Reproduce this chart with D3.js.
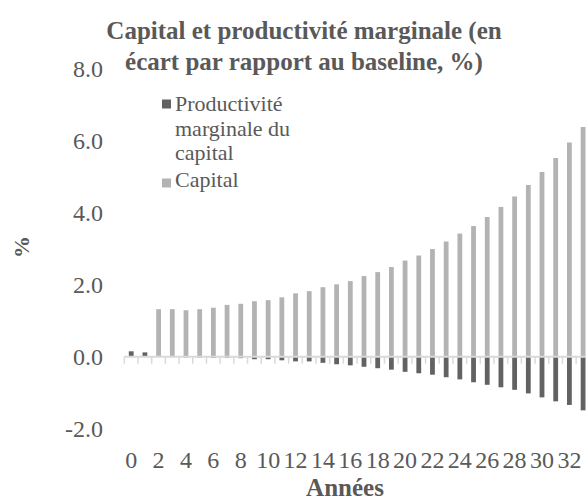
<!DOCTYPE html>
<html lang="fr">
<head>
<meta charset="UTF-8">
<title>Capital et productivité marginale</title>
<style>
  body { margin: 0; background: #fff; }
  svg text { font-family: 'Liberation Serif', 'Times New Roman', serif; fill: #595959; }
  .tick-label { font-size: 24px; }
  .title { font-size: 25px; font-weight: bold; }
  .legend text { font-size: 22px; }
  .axis-title { font-weight: bold; font-size: 25px; }
</style>
</head>
<body>
<svg id="chart" width="586" height="500"></svg>
<script src="https://d3js.org/d3.v7.min.js"></script>
<script>
// data
var years = d3.range(0, 34);
var productivite = [0.15, 0.12, -0.01, -0.01, -0.02, -0.02, -0.03, -0.03, -0.04, -0.07,
  -0.07, -0.10, -0.13, -0.13, -0.17, -0.21, -0.24, -0.28, -0.32, -0.36,
  -0.42, -0.46, -0.50, -0.57, -0.63, -0.71, -0.78, -0.85, -0.92, -1.02,
  -1.13, -1.24, -1.34, -1.49];
var capital = [0, 0, 1.32, 1.32, 1.29, 1.32, 1.36, 1.44, 1.47, 1.54,
  1.57, 1.65, 1.76, 1.82, 1.93, 2.01, 2.10, 2.24, 2.35, 2.49,
  2.67, 2.81, 2.99, 3.20, 3.42, 3.63, 3.88, 4.16, 4.45, 4.77,
  5.13, 5.52, 5.95, 6.38];
var yTicks = [-2, 0, 2, 4, 6, 8];
var seriesNames = ["Productivité marginale du capital", "Capital"];
var colors = ["#626262", "#b3b3b3"];

var svg = d3.select("#chart");

var x = d3.scaleBand()
  .domain(years)
  .range([124.3, 590])
  .paddingInner(0.65)
  .paddingOuter(0.33);
var y = d3.scaleLinear().domain([-2, 8]).range([428.7, 68.7]);

var rows = years.map(function(yr, i) {
  return { year: yr, p: productivite[i], c: capital[i] };
});
var stack = d3.stack().keys(["p", "c"]).offset(d3.stackOffsetDiverging);
var layers = stack(rows);

svg.selectAll("g.layer")
  .data(layers)
  .enter().append("g")
  .attr("class", "layer")
  .attr("fill", function(d, i) { return colors[i]; })
  .selectAll("rect")
  .data(function(d) { return d; })
  .enter().append("rect")
  .attr("x", function(d) { return x(d.data.year); })
  .attr("width", x.bandwidth())
  .attr("y", function(d) { return y(Math.max(d[0], d[1])); })
  .attr("height", function(d) { return Math.abs(y(d[0]) - y(d[1])); });

// x axis line and ticks between categories
var step = x.step();
var x0 = x.range()[0];
svg.append("line")
  .attr("x1", x0).attr("x2", x.range()[1])
  .attr("y1", y(0)).attr("y2", y(0))
  .attr("stroke", "#d9d9d9").attr("stroke-width", 2);
svg.selectAll("line.xtick")
  .data(d3.range(0, years.length + 1))
  .enter().append("line")
  .attr("class", "xtick")
  .attr("x1", function(i) { return x0 + i * step; })
  .attr("x2", function(i) { return x0 + i * step; })
  .attr("y1", y(0)).attr("y2", y(0) + 7)
  .attr("stroke", "#d9d9d9").attr("stroke-width", 1.5);

// x tick labels every second year
svg.selectAll("text.xlab")
  .data(years.filter(function(d) { return d % 2 === 0; }))
  .enter().append("text")
  .attr("class", "tick-label xlab")
  .attr("x", function(d) { return x(d) + x.bandwidth() / 2; })
  .attr("y", 467.7)
  .attr("text-anchor", "middle")
  .text(function(d) { return d; });

// y tick labels
svg.selectAll("text.ylab")
  .data(yTicks)
  .enter().append("text")
  .attr("class", "tick-label ylab")
  .attr("x", 103)
  .attr("y", function(d) { return y(d) + 8.3; })
  .attr("text-anchor", "end")
  .text(function(d) { return d.toFixed(1); });

// title
svg.append("text").attr("class", "title")
  .attr("x", 304).attr("y", 39).attr("text-anchor", "middle")
  .text("Capital et productivité marginale (en");
svg.append("text").attr("class", "title")
  .attr("x", 304).attr("y", 70).attr("text-anchor", "middle")
  .text("écart par rapport au baseline, %)");

// axis titles
svg.append("text").attr("class", "axis-title")
  .attr("transform", "translate(29,247) rotate(-90)")
  .attr("text-anchor", "middle")
  .style("font-size", "22px")
  .text("%");
svg.append("text").attr("class", "axis-title")
  .attr("x", 345).attr("y", 496).attr("text-anchor", "middle")
  .text("Années");

// legend
var legend = svg.append("g").attr("class", "legend");
legend.append("rect").attr("x", 162).attr("y", 99.5).attr("width", 9).attr("height", 9).attr("fill", colors[0]);
var lt = legend.append("text").attr("x", 175).attr("y", 111);
lt.append("tspan").attr("x", 175).attr("y", 111).text("Productivité");
lt.append("tspan").attr("x", 175).attr("y", 135.5).text("marginale du");
lt.append("tspan").attr("x", 175).attr("y", 160).text("capital");
legend.append("rect").attr("x", 162).attr("y", 178.5).attr("width", 9).attr("height", 9).attr("fill", colors[1]);
legend.append("text").attr("x", 175).attr("y", 186.5).text(seriesNames[1]);
</script>
</body>
</html>
